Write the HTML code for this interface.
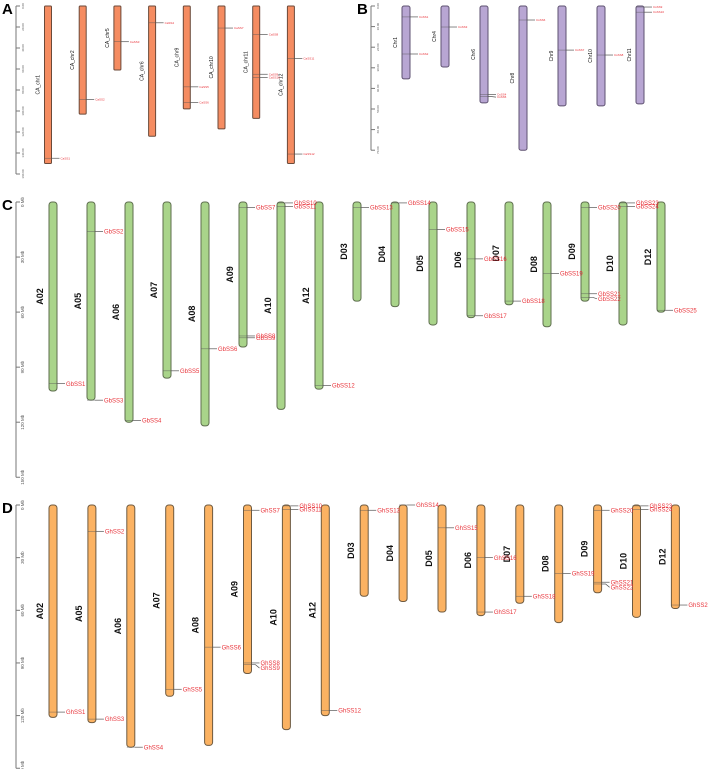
<!DOCTYPE html>
<html><head><meta charset="utf-8"><style>
html,body{margin:0;padding:0;background:#fff}
svg{display:block;font-family:"Liberation Sans",sans-serif}
</style></head><body>
<svg id="fig" width="708" height="769" viewBox="0 0 708 769" xmlns="http://www.w3.org/2000/svg">
<text x="2" y="14" font-size="15" font-weight="bold">A</text>
<text x="357" y="14" font-size="15" font-weight="bold">B</text>
<text x="2" y="210" font-size="15" font-weight="bold">C</text>
<text x="2" y="513" font-size="15" font-weight="bold">D</text>
</svg>
<script>
// Panel A (pepper)
const aChroms = ["CA_chr1","CA_chr2","CA_chr5","CA_chr6","CA_chr9","CA_chr10","CA_chr11","CA_chr12"];
const aLengths = [150,103,61,124,98,117,107,150];
const aGeneNames = ["CaSS1","CaSS2","CaSS3","CaSS4","CaSS5","CaSS6","CaSS7","CaSS8","CaSS9","CaSS10","CaSS11","CaSS12"];
const aGeneChrom = [0,1,2,3,4,4,5,6,6,6,7,7];
const aGenePos = [145,89,34,16,77,92,21,27,65,68,50,141];
const aTicks = ["0.00","20.00","40.00","60.00","80.00","100.00","120.00","140.00","160.00"];
const aTickVals = [0,20,40,60,80,100,120,140,160];
// Panel B
const bChroms = ["Chr1","Chr4","Chr6","Chr8","Chr9","Chr10","Chr11"];
const bLengths = [35.4,29.6,47,70,48.5,48.5,47.5];
const bGeneNames = ["CsSS1","CsSS2","CsSS3","CsSS4","CsSS5","CsSS6","CsSS7","CsSS8","CsSS9","CsSS10"];
const bGeneChrom = [0,0,1,2,2,3,4,5,6,6];
const bGenePos = [5.3,23.3,10.2,43,44,6.8,21.4,23.8,0.5,3];
const bTicks = ["0.00","10.00","20.00","30.00","40.00","50.00","60.00","70.00"];
const bTickVals = [0,10,20,30,40,50,60,70];
// Panel C
const cChroms = ["A02","A05","A06","A07","A08","A09","A10","A12","D03","D04","D05","D06","D07","D08","D09","D10","D12"];
const cLengths = [103,108,120,96,122,79,113,102,54,57,67,63,56,68,54,67,60];
const cGeneNames = ["GbSS1","GbSS2","GbSS3","GbSS4","GbSS5","GbSS6","GbSS7","GbSS8","GbSS9","GbSS10","GbSS11","GbSS12","GbSS13","GbSS14","GbSS15","GbSS16","GbSS17","GbSS18","GbSS19","GbSS20","GbSS21","GbSS22","GbSS23","GbSS24","GbSS25"];
const cGeneChrom = [0,1,1,2,3,4,5,5,5,6,6,7,8,9,10,11,11,12,13,14,14,14,15,15,16];
const cGenePos = [99,16,108,119,92,80,3,73,74,0.5,2.5,100,3,0.5,15,31,62,54,39,3,50,52,0.5,2.5,59];
const cTicks = ["0 Mb","30 Mb","60 Mb","90 Mb","120 Mb","150 Mb"];
const cTickVals = [0,30,60,90,120,150];
// Panel D
const dChroms = ["A02","A05","A06","A07","A08","A09","A10","A12","D03","D04","D05","D06","D07","D08","D09","D10","D12"];
const dLengths = [121,124,138,109,137,96,128,120,52,55,61,63,56,67,50,64,59];
const dGeneNames = ["GhSS1","GhSS2","GhSS3","GhSS4","GhSS5","GhSS6","GhSS7","GhSS8","GhSS9","GhSS10","GhSS11","GhSS12","GhSS13","GhSS14","GhSS15","GhSS16","GhSS17","GhSS18","GhSS19","GhSS20","GhSS21","GhSS22","GhSS23","GhSS24","GhSS25"];
const dGeneChrom = [0,1,1,2,3,4,5,5,5,6,6,7,8,9,10,11,11,12,13,14,14,14,15,15,16];
const dGenePos = [118,15,122,138,105,81,3,90,91,0.5,2.5,117,3,0,13,30,61,52,39,3,44,45,0.5,2.5,57];
const dTicks = ["0 Mb","30 Mb","60 Mb","90 Mb","120 Mb","150 Mb"];
const dTickVals = [0,30,60,90,120,150];

const NS="http://www.w3.org/2000/svg";
const svg=document.getElementById('fig');
function mk(tag,attrs,parent){const e=document.createElementNS(NS,tag);for(const k in attrs)e.setAttribute(k,attrs[k]);(parent||svg).appendChild(e);return e;}

function panel(p){
  const g=mk('g',{});
  
  
  const y=v=>p.top+v*p.scale;
  const x=i=>p.x0+i*p.dx;
  // axis
  const ax=mk('g',{},g);
  
  
  mk('line',{x1:p.axX,x2:p.axX,y1:y(p.tickVals[0]),y2:y(p.tickVals[p.tickVals.length-1]),stroke:'#777','stroke-width':1},ax);
  p.tickVals.forEach((v,i)=>{
    mk('line',{x1:p.axX,x2:p.axX+4,y1:y(v),y2:y(v),stroke:'#777','stroke-width':1},ax);
    const t=mk('text',{x:0,y:0,'font-size':p.tickFs,fill:'#555',transform:`translate(${p.axX+8},${y(v)}) rotate(-90)`,'text-anchor':'middle'},ax);
    t.textContent=p.ticks[i];
    
    
  });
  p.chroms.forEach((c,i)=>{
    const cx=x(i), h=p.lengths[i]*p.scale;
    const r=mk('rect',{x:cx-p.w/2,y:p.top,width:p.w,height:h,rx:p.rx,ry:p.rx,fill:p.fill,stroke:p.stroke,'stroke-width':1},g);
    
    
    const t=mk('text',{x:0,y:0,'font-size':p.labFs,'font-weight':p.bold?'bold':'normal',fill:'#111','text-anchor':'middle',transform:`translate(${cx-p.w/2-p.labGap},${p.top+h/2}) rotate(-90)`},g);
    t.textContent=c;
    
    
  });
  // genes
  const seen={};
  p.genes.forEach((n,k)=>{
    const ci=p.geneChrom[k], gy=y(p.genePos[k]);
    const key=ci+'_'+Math.round(p.genePos[k]/4);
    let ly=gy;
    if(seen[key]!==undefined){ly=Math.max(gy,seen[key]+p.geneFs*0.85);}
    seen[key]=ly;
    const ex=x(ci)+p.w/2;
    mk('line',{x1:x(ci)-p.w/2,x2:ex,y1:gy,y2:gy,stroke:'#555','stroke-width':0.6,opacity:0.7},g);
    const l=mk('polyline',{points:`${ex},${gy} ${ex+p.lead*0.5},${gy} ${ex+p.lead},${ly}`,fill:'none',stroke:'#555','stroke-width':0.7},g);
    
    
    const t=mk('text',{x:ex+p.lead+1,y:ly+p.geneFs*0.35,'font-size':p.geneFs,fill:'#e8333a'},g);
    t.textContent=n;
    
    
  });
}
panel({id:'a',chroms:aChroms,lengths:aLengths,genes:aGeneNames,geneChrom:aGeneChrom,genePos:aGenePos,ticks:aTicks,tickVals:aTickVals,
  top:6,scale:1.05,x0:48,dx:34.7,w:7,rx:1,fill:'#f58c61',stroke:'#6b4a3a',axX:16,tickFs:3,labFs:5,labGap:5,bold:false,geneFs:3,lead:8});
panel({id:'b',chroms:bChroms,lengths:bLengths,genes:bGeneNames,geneChrom:bGeneChrom,genePos:bGenePos,ticks:bTicks,tickVals:bTickVals,
  top:6,scale:2.06,x0:406,dx:39,w:8,rx:2,fill:'#b8a6d3',stroke:'#5e5170',axX:371,tickFs:3,labFs:5,labGap:5,bold:false,geneFs:3,lead:8});
panel({id:'c',chroms:cChroms,lengths:cLengths,genes:cGeneNames,geneChrom:cGeneChrom,genePos:cGenePos,ticks:cTicks,tickVals:cTickVals,
  top:202,scale:1.835,x0:53,dx:38,w:8,rx:3,fill:'#a9d48a',stroke:'#5e6e4e',axX:16,tickFs:4.5,labFs:9,labGap:6,bold:true,geneFs:6,lead:8});
panel({id:'d',chroms:dChroms,lengths:dLengths,genes:dGeneNames,geneChrom:dGeneChrom,genePos:dGenePos,ticks:dTicks,tickVals:dTickVals,
  top:505,scale:1.755,x0:53,dx:38.9,w:8,rx:3,fill:'#fbb262',stroke:'#6e5a40',axX:16,tickFs:4.5,labFs:9,labGap:6,bold:true,geneFs:6,lead:8});
</script>
</body></html>
